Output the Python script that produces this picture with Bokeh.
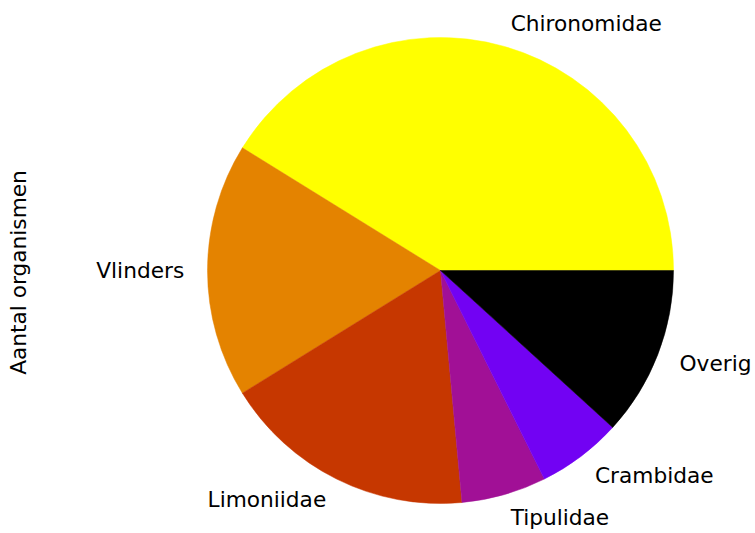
import math
from bokeh.plotting import figure
from bokeh.models import Range1d, ColumnDataSource
from bokeh.core.properties import value
from bokeh.embed import file_html
from bokeh.resources import INLINE

# Data
categories = ["Chironomidae", "Vlinders", "Limoniidae", "Tipulidae", "Crambidae", "Overig"]
counts = [7, 3, 3, 1, 1, 2]
colors = ["#ffff00", "#e48300", "#c63700", "#a11096", "#7202f3", "#000000"]
y_label = "Aantal organismen"

W, H = 755, 533
R = 233.0

p = figure(width=W, height=H, output_backend="svg", toolbar_location=None,
           x_range=Range1d(-440, 315), y_range=Range1d(-263, 270),
           x_axis_location=None, y_axis_location=None, min_border=0)
p.outline_line_color = None
p.xgrid.visible = False
p.ygrid.visible = False
p.background_fill_color = "white"

total = float(sum(counts))
starts, ends = [], []
acc = 0.0
for c in counts:
    starts.append(2 * math.pi * acc / total)
    acc += c
    ends.append(2 * math.pi * acc / total)

src = ColumnDataSource(dict(start=starts, end=ends, color=colors, cat=categories))
p.wedge(x=0, y=0, radius=R, start_angle="start", end_angle="end",
        fill_color="color", line_color="color", line_width=0.5,
        direction="anticlock", source=src)

lx, ly, la = [], [], []
for s, e in zip(starts, ends):
    m = (s + e) / 2
    x = 1.1 * R * math.cos(m)
    y = 1.1 * R * math.sin(m)
    lx.append(x)
    ly.append(y)
    la.append("left" if x > 0 else "right")

lsrc = ColumnDataSource(dict(x=lx, y=ly, t=categories, a=la))
p.text(x="x", y="y", text="t", text_align="a", text_baseline="middle",
       text_font=value("DejaVu Sans"), text_font_size="21.7px", text_color="#000000",
       source=lsrc)

p.text(x=[-422], y=[-2], text=[y_label], angle=math.pi / 2,
       text_align="center", text_baseline="middle",
       text_font=value("DejaVu Sans"), text_font_size="21.7px", text_color="#000000")

open("out.html", "w").write(file_html(p, INLINE))
